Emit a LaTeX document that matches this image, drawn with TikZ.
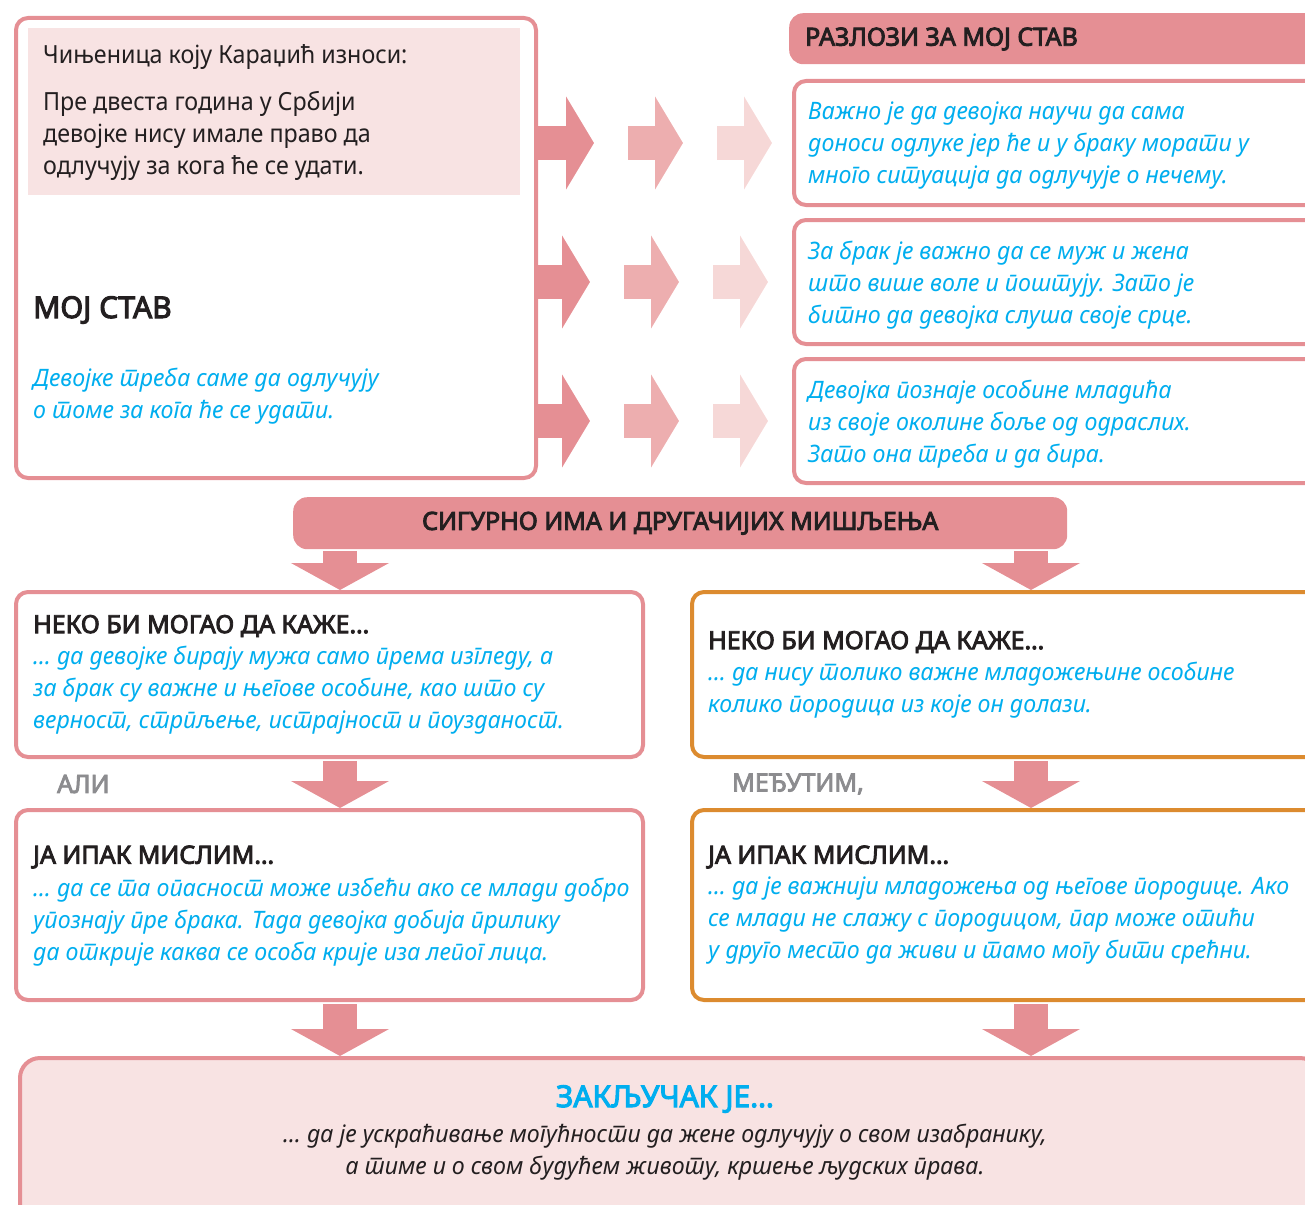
\documentclass[tikz,border=0pt]{standalone}
\usepackage{fontspec}
\setmainfont{Noto Sans}[Script=Cyrillic, Language=Serbian, FakeStretch=0.965]
\newfontfamily\factfont{Noto Sans}[Script=Cyrillic, Language=Serbian, FakeStretch=0.93]
\newfontfamily\headfont{Noto Sans}[Script=Cyrillic, Language=Serbian, FakeBold=3.5]
\usetikzlibrary{arrows.meta}
\definecolor{rosa}{HTML}{E58F94}
\definecolor{rosamid}{HTML}{EDAEAF}
\definecolor{rosalight}{HTML}{F6D8D7}
\definecolor{blush}{HTML}{F8E3E3}
\definecolor{sky}{HTML}{00AEEF}
\definecolor{ink}{HTML}{231F20}
\definecolor{grayword}{HTML}{8C8C8F}
\definecolor{ochre}{HTML}{DC8B2F}

\begin{document}
\begin{tikzpicture}[x=1pt, y=-1pt,
	box/.style={draw=rosa, line width=4pt, rounded corners=12pt, fill=white, inner sep=0pt, anchor=north west},
	tanbox/.style={box, draw=ochre},
	band/.style={fill=rosa, rounded corners=14pt, inner sep=0pt, anchor=north west},
	plaintext/.style={inner sep=0pt, anchor=west, align=left, text=ink, font=\factfont\fontsize{25}{32}\selectfont},
	headline/.style={plaintext, font=\headfont\fontsize{25}{32}\selectfont},
	why/.style={plaintext, text=sky, font=\fontsize{24}{32}\selectfont\itshape},
	fadearrow/.style={line width=34pt, -{Triangle[length=28pt, width=92pt]}},
	downarrow/.style={draw=rosa, line width=34pt, shorten <=2pt, -{Triangle[length=27pt, width=97pt]}}]
	%\draw[help lines] (0,0) grid[step=100] (1305,1204);
	\useasboundingbox (0,0) rectangle (1305,1204);
	\clip (0,0) rectangle (1305,1204);

	\node [box, minimum width=520pt, minimum height=460pt] (stav) at (14,16) {};
	\node [fill=blush, inner sep=0pt, anchor=north west, minimum width=492pt, minimum height=167pt] (fact) at (28,28) {};
	\node [plaintext] (facthead) at (43,57) {Чињеница коју Караџић износи:};
	\node [plaintext] (facttext) at (43,136) {Пре двеста година у Србији\\девојке нису имале право да\\одлучују за кога ће се удати.};
	\node [headline, font=\headfont\fontsize{30}{36}\selectfont] (mojstav) at (33,310) {МОЈ СТАВ};
	\node [why] (stavtext) at (33,396) {Девојке треба саме да одлучују\\о томе за кога ће се удати.};

	\node [band, minimum width=540pt, minimum height=51pt] (razlozi) at (789,13) {};
	\node [headline] at (805,39) {РАЗЛОЗИ ЗА МОЈ СТАВ};
	\node [box, minimum width=530pt, minimum height=124pt] (r1) at (792,79) {};
	\node [box, minimum width=530pt, minimum height=124pt] (r2) at (792,218) {};
	\node [box, minimum width=530pt, minimum height=124pt] (r3) at (792,357) {};
	\node [why] at (808,146) {Важно је да девојка научи да сама\\доноси одлуке јер ће и у браку морати у\\много ситуација да одлучује о нечему.};
	\node [why] at (808,285) {За брак је важно да се муж и жена\\што више воле и поштују. Зато је\\битно да девојка слуша своје срце.};
	\node [why] at (808,424) {Девојка познаје особине младића\\из своје околине боље од одраслих.\\Зато она треба и да бира.};

	\foreach \r/\dx in {r1/0, r2/-4, r3/-4} {
		\draw [fadearrow, rosa] (stav.east |- \r.west) -- ++(56+\dx,0);
		\draw [fadearrow, rosamid] (stav.east |- \r.west) ++(90+\dx,0) -- ++(55,0);
		\draw [fadearrow, rosalight] (stav.east |- \r.west) ++(179+\dx,0) -- ++(55,0);
	}

	\node [band, minimum width=774pt, minimum height=52pt] (drugi) at (293,497) {};
	\node [headline, anchor=center] at (drugi.center) {СИГУРНО ИМА И ДРУГАЧИЈИХ МИШЉЕЊА};
	\coordinate (lx) at (340,0);
	\coordinate (rx) at (1031,0);

	\node [box, minimum width=627pt, minimum height=165pt] (neko1) at (14,590) {};
	\node [box, minimum width=627pt, minimum height=190pt] (ipak1) at (14,808) {};
	\node [tanbox, minimum width=630pt, minimum height=165pt] (neko2) at (690,590) {};
	\node [tanbox, minimum width=630pt, minimum height=190pt] (ipak2) at (690,808) {};
	\node [box, fill=blush, rounded corners=20pt, minimum width=1300pt, minimum height=170pt] (zakljucak) at (18,1056) {};

	\draw [downarrow] (drugi.south -| lx) -- (neko1.north -| lx);
	\draw [downarrow] (drugi.south -| rx) -- (neko2.north -| rx);
	\draw [downarrow] (neko1.south -| lx) -- (ipak1.north -| lx);
	\draw [downarrow] (neko2.south -| rx) -- (ipak2.north -| rx);
	\draw [downarrow] (ipak1.south -| lx) -- (zakljucak.north -| lx);
	\draw [downarrow] (ipak2.south -| rx) -- (zakljucak.north -| rx);

	\node [headline] at (33,626) {НЕКО БИ МОГАО ДА КАЖЕ…};
	\node [why] at (33,690) {… да девојке бирају мужа само према изгледу, а\\за брак су важне и његове особине, као што су\\верност, стрпљење, истрајност и поузданост.};
	\node [headline, text=grayword] at (57,784) {АЛИ};
	\node [headline] at (33,857) {ЈА ИПАК МИСЛИМ…};
	\node [why] at (33,922) {… да се та опасност може избећи ако се млади добро\\упознају пре брака. Тада девојка добија прилику\\да открије каква се особа крије иза лепог лица.};

	\node [headline] at (708,642) {НЕКО БИ МОГАО ДА КАЖЕ…};
	\node [why] at (708,690) {… да нису толико важне младожењине особине\\колико породица из које он долази.};
	\node [headline, text=grayword] at (732,784) {МЕЂУТИМ,};
	\node [headline] at (708,857) {ЈА ИПАК МИСЛИМ…};
	\node [why] at (708,921) {… да је важнији младожења од његове породице. Ако\\се млади не слажу с породицом, пар може отићи\\у друго место да живи и тамо могу бити срећни.};

	\node [headline, anchor=center, text=sky, font=\headfont\fontsize{30}{36}\selectfont] at (665,1099) {ЗАКЉУЧАК ЈЕ…};
	\node [why, anchor=center, align=center, text=ink] at (665,1152) {… да је ускраћивање могућности да жене одлучују о свом изабранику,\\а тиме и о свом будућем животу, кршење људских права.};
\end{tikzpicture}
\end{document}
